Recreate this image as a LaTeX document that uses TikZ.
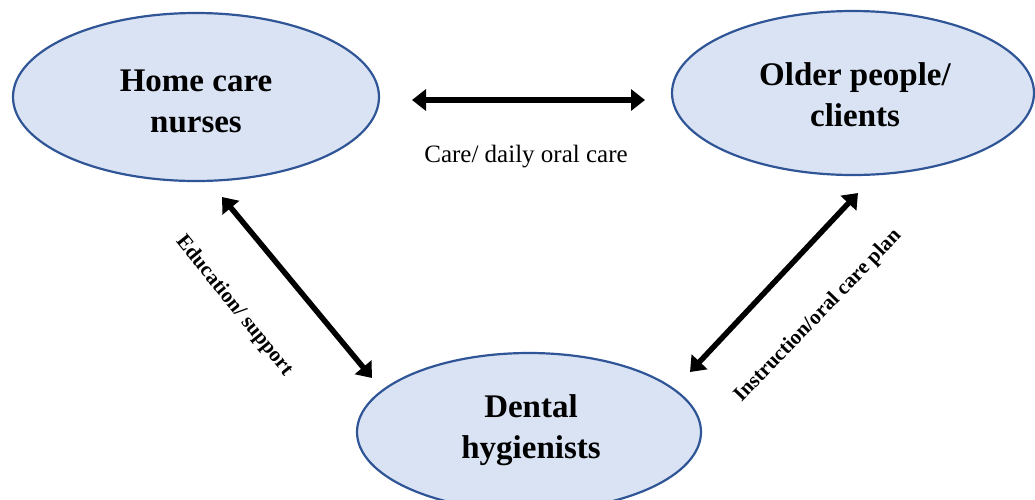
\documentclass[tikz,border=0pt]{standalone}
\usepackage{fontspec}
\setmainfont{Liberation Serif}
\usetikzlibrary{shapes.geometric,arrows.meta}
\definecolor{ellfill}{HTML}{DAE3F3}
\definecolor{elldraw}{HTML}{2F5597}
\tikzset{
  party/.style={ellipse, draw=elldraw, fill=ellfill, line width=2.2pt, inner sep=0pt},
  partytext/.style={align=center, inner sep=0pt, font=\fontsize{33}{41}\selectfont\bfseries},
  link/.style={line width=5.5pt, {Triangle[length=14pt,width=21pt]}-{Triangle[length=14pt,width=21pt]}},
  linklabel/.style={font=\fontsize{21}{22}\selectfont\bfseries, inner sep=0pt},
}
\begin{document}
\begin{tikzpicture}[x=1pt,y=1pt]
\useasboundingbox (0,0) rectangle (1035,-499);
\node[party, minimum width=366pt, minimum height=168pt] (nurses) at (196,-97) {};
\node[party, minimum width=362pt, minimum height=164pt] (older) at (853,-93) {};
\node[party, minimum width=344pt, minimum height=158pt] (dental) at (529,-432) {};
\node[partytext, yshift=-4pt] (nursestext) at (nurses.center) {Home care\\nurses};
\node[partytext, xshift=2pt, yshift=-2pt] (oldertext) at (older.center) {Older people/\\clients};
\node[partytext, xshift=2pt, yshift=2pt] (dentaltext) at (dental.center) {Dental\\hygienists};

\coordinate (h1) at (412,-100);
\coordinate (h2) at (645,-100);
\coordinate (l1) at (222,-197);
\coordinate (l2) at (372,-378);
\coordinate (r1) at (690,-372);
\coordinate (r2) at (858,-193);

\draw[link] (h1) -- (h2);
\draw[link] (l1) -- (l2);
\draw[link] (r1) -- (r2);

\node[font=\fontsize{25}{26}\selectfont, inner sep=0pt, anchor=base] (care) at (526,-162) {Care/ daily oral care};
\node[linklabel, rotate=-51] (edu) at (234,-306) {Education/ support};
\node[linklabel, rotate=46] (instr) at (818,-316) {Instruction/oral care plan};
\end{tikzpicture}
\end{document}
